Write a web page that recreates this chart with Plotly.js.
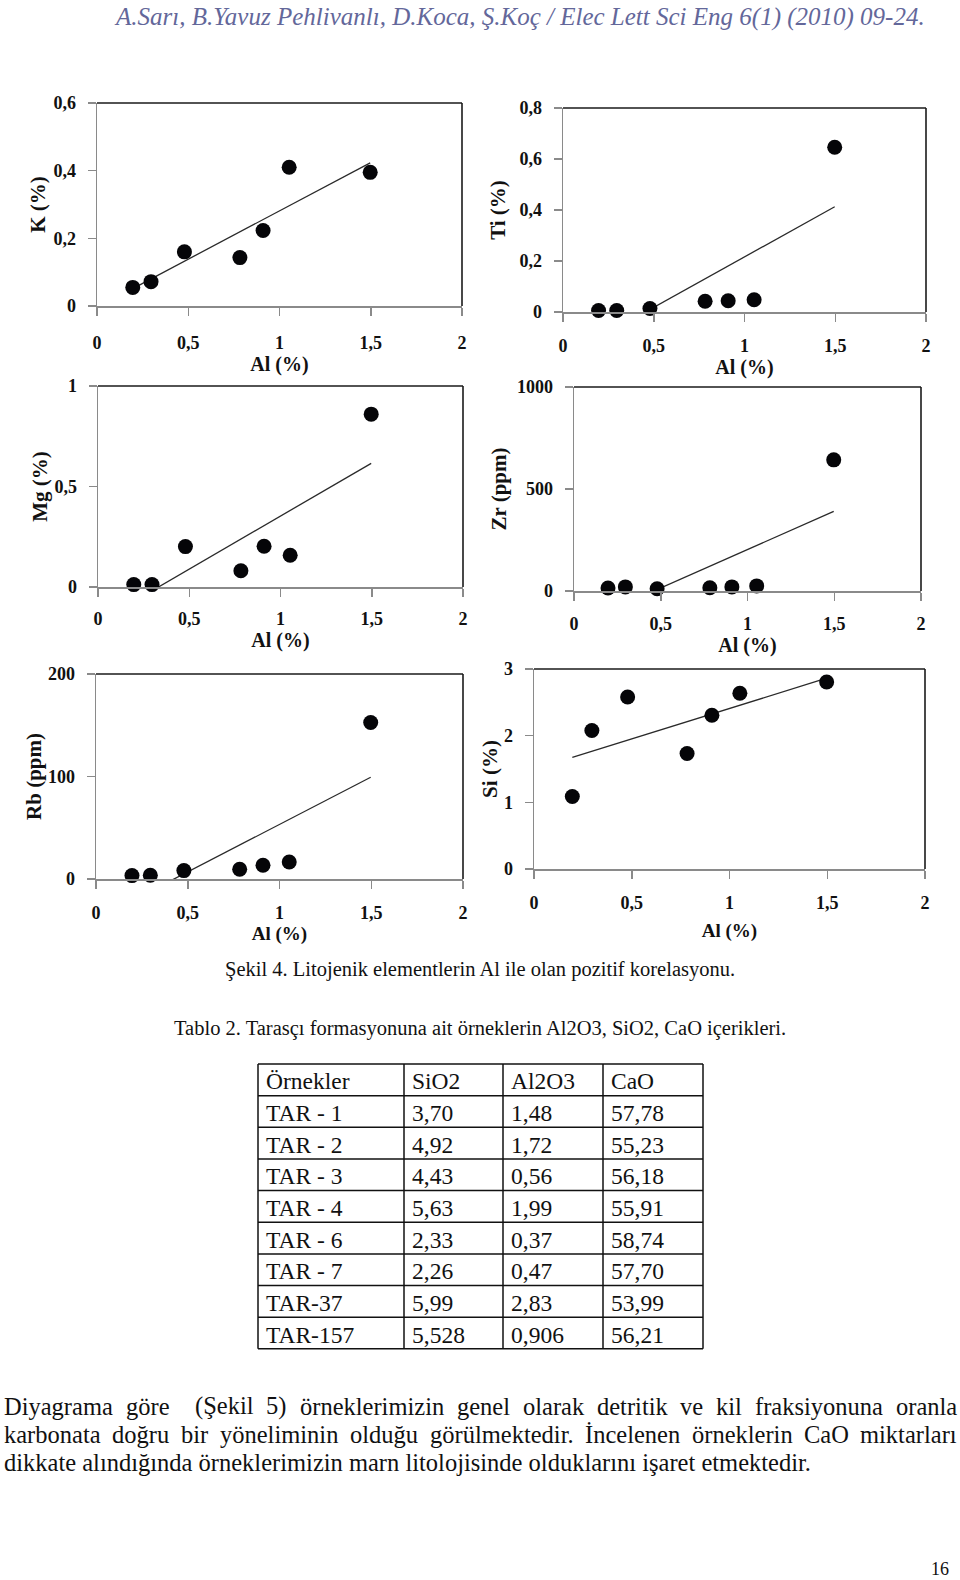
<!DOCTYPE html>
<html><head><meta charset="utf-8">
<script src="https://cdn.plot.ly/plotly-3.0.1.min.js"></script>
<style>html,body{margin:0;padding:0;background:#fff;}#chart{width:960px;height:1580px;}</style>
</head><body><div id="chart"></div>
<script>
// ---- data ----
const alValues = [0.196, 0.296, 0.479, 0.783, 0.910, 1.053, 1.497];
const kValues  = [0.055, 0.072, 0.160, 0.143, 0.223, 0.410, 0.395];
const tiValues = [0.006, 0.006, 0.014, 0.042, 0.044, 0.048, 0.646];
const mgValues = [0.012, 0.012, 0.201, 0.081, 0.203, 0.158, 0.860];
const zrValues = [15, 20, 11, 16, 20, 25, 643];
const rbValues = [3.3, 3.6, 8.2, 9.5, 13.4, 16.6, 152.7];
const siValues = [1.088, 2.077, 2.581, 1.732, 2.306, 2.636, 2.806];
const xTickVals = [0, 0.5, 1, 1.5, 2];

const tableHeader = ['Örnekler', 'SiO2', 'Al2O3', 'CaO'];
const sampleNames = ['TAR - 1', 'TAR - 2', 'TAR - 3', 'TAR - 4', 'TAR - 6', 'TAR - 7', 'TAR-37', 'TAR-157'];
const sio2Values  = ['3,70', '4,92', '4,43', '5,63', '2,33', '2,26', '5,99', '5,528'];
const al2o3Values = ['1,48', '1,72', '0,56', '1,99', '0,37', '0,47', '2,83', '0,906'];
const caoValues   = ['57,78', '55,23', '56,18', '55,91', '58,74', '57,70', '53,99', '56,21'];

const headerText = 'A.Sarı, B.Yavuz Pehlivanlı, D.Koca, Ş.Koç / Elec Lett Sci Eng 6(1) (2010) 09-24.';
const figCaption = 'Şekil 4. Litojenik elementlerin Al ile olan pozitif korelasyonu.';
const tableCaption = 'Tablo 2. Tarasçı formasyonuna ait örneklerin Al2O3, SiO2, CaO içerikleri.';
const paraLines = [
  'Diyagrama göre  (Şekil 5) örneklerimizin genel olarak detritik ve kil fraksiyonuna oranla',
  'karbonata doğru bir yöneliminin olduğu görülmektedir. İncelenen örneklerin CaO miktarları',
  'dikkate alındığında örneklerimizin marn litolojisinde olduklarını işaret etmektedir.'
];
const pageNumber = '16';

// ---- layout helpers ----
const W = 960, H = 1580;
const px = v => v / W, py = v => 1 - v / H;
const SERIF = 'Liberation Serif, Times New Roman, serif';

const panels = [
  {ys: kValues,  title: 'K (%)',    range: [0, 0.6],  dtick: 0.2, box: [97, 462, 103, 306], xt: 20, xs: 12, xts: 0, yts: 2},
  {ys: tiValues, title: 'Ti (%)',   range: [0, 0.8],  dtick: 0.2, box: [563, 926, 108, 312], xt: 20, xs: 9,  xts: 0, yts: 8},
  {ys: mgValues, title: 'Mg (%)',   range: [0, 1],    dtick: 0.5, box: [98, 463, 386, 587], xt: 20, xs: 7,  xts: 0, yts: 1},
  {ys: zrValues, title: 'Zr (ppm)', range: [0, 1000], dtick: 500, box: [574, 921, 387, 591], xt: 20, xs: 8,  xts: 0, yts: 4},
  {ys: rbValues, title: 'Rb (ppm)', range: [0, 200],  dtick: 100, box: [96, 463, 674, 879], xt: 19, xs: 9,  xts: 0, yts: 0},
  {ys: siValues, title: 'Si (%)',   range: [0, 3],    dtick: 1,   box: [534, 925, 669, 869], xt: 19, xs: 9,  xts: 11, yts: 0}
];

function linFit(xs, ys) {
  const n = xs.length;
  const mx = xs.reduce((a, b) => a + b, 0) / n;
  const my = ys.reduce((a, b) => a + b, 0) / n;
  let sxx = 0, sxy = 0;
  for (let i = 0; i < n; i++) { sxx += (xs[i] - mx) ** 2; sxy += (xs[i] - mx) * (ys[i] - my); }
  const b = sxy / sxx;
  return {a: my - b * mx, b: b};
}

const data = [];
const layout = {
  width: W, height: H, margin: {l: 0, r: 0, t: 0, b: 0},
  paper_bgcolor: '#ffffff', plot_bgcolor: '#ffffff',
  showlegend: false, separators: ',.',
  font: {family: SERIF, color: '#000'},
  shapes: [], annotations: []
};

const axisGray = '#8a8a8a';
panels.forEach((p, i) => {
  const s = i === 0 ? '' : String(i + 1);
  const [l, r, t, b] = p.box;
  const xmin = Math.min(...alValues), xmax = Math.max(...alValues);
  const f = linFit(alValues, p.ys);
  data.push({
    type: 'scatter', mode: 'lines', xaxis: 'x' + s, yaxis: 'y' + s,
    x: [xmin, xmax], y: [f.a + f.b * xmin, f.a + f.b * xmax],
    line: {color: '#2a2a2a', width: 1.3}, hoverinfo: 'skip'
  });
  data.push({
    type: 'scatter', mode: 'markers', xaxis: 'x' + s, yaxis: 'y' + s,
    x: alValues, y: p.ys, cliponaxis: false,
    marker: {color: '#050508', size: 15, line: {width: 0}}
  });
  layout['xaxis' + s] = {
    domain: [px(l), px(r)], anchor: 'y' + s, range: [0, 2], tickvals: xTickVals,
    showline: true, linecolor: axisGray, linewidth: 1.5, mirror: false,
    ticks: 'outside', ticklen: 8, tickwidth: 1.5, tickcolor: axisGray,
    showgrid: false, zeroline: false, ticklabelstandoff: p.xs,
    tickfont: {family: SERIF, size: 18, weight: 700, color: '#111'},
    title: {text: 'Al (%)', standoff: p.xts, font: {family: SERIF, size: p.xt, weight: 700, color: '#111'}},
    fixedrange: true
  };
  layout['yaxis' + s] = {
    domain: [py(b), py(t)], anchor: 'x' + s, range: p.range, dtick: p.dtick, tick0: 0,
    showline: true, linecolor: axisGray, linewidth: 1.5,
    ticks: 'outside', ticklen: 8, tickwidth: 1.5, tickcolor: axisGray,
    showgrid: false, zeroline: false, ticklabelstandoff: 8,
    tickfont: {family: SERIF, size: 18, weight: 700, color: '#111'},
    title: {text: p.title, standoff: p.yts, font: {family: SERIF, size: 21, weight: 700, color: '#111'}},
    fixedrange: true
  };
  const xd = 'x' + s + ' domain', yd = 'y' + s + ' domain';
  layout.shapes.push({type: 'line', xref: xd, yref: yd, x0: 0, x1: 1, y0: 1, y1: 1, line: {color: '#1a1a1a', width: 1.6}});
  layout.shapes.push({type: 'line', xref: xd, yref: yd, x0: 1, x1: 1, y0: 0, y1: 1, line: {color: '#1a1a1a', width: 1.6}});
});

function addText(text, x, y, opts) {
  layout.annotations.push(Object.assign({
    text: text, xref: 'paper', yref: 'paper', x: px(x), y: py(y),
    xanchor: 'center', yanchor: 'middle', showarrow: false, borderpad: 0, borderwidth: 0,
    font: {family: SERIF, size: 19, color: '#000'}
  }, opts || {}));
}

// header
addText(headerText, 519, 17, {font: {family: SERIF, size: 25, style: 'italic', color: '#63679a'}});
// captions
addText(figCaption, 480, 969, {font: {family: SERIF, size: 20.5, color: '#111'}});
addText(tableCaption, 480, 1028, {font: {family: SERIF, size: 20.5, color: '#111'}});

// table
const colXs = [258, 404, 503, 603, 703];
const tableTop = 1064, rowH = 31.65;
const columns = [sampleNames, sio2Values, al2o3Values, caoValues];
const nRows = sampleNames.length + 1;
for (let r = 0; r <= nRows; r++) {
  const yy = tableTop + r * rowH;
  layout.shapes.push({type: 'line', xref: 'paper', yref: 'paper', x0: px(colXs[0]), x1: px(colXs[4]), y0: py(yy), y1: py(yy), line: {color: '#111', width: 1.5}});
}
colXs.forEach(cx => {
  layout.shapes.push({type: 'line', xref: 'paper', yref: 'paper', x0: px(cx), x1: px(cx), y0: py(tableTop), y1: py(tableTop + nRows * rowH), line: {color: '#111', width: 1.5}});
});
const cellFont = {family: SERIF, size: 23.5, color: '#111'};
tableHeader.forEach((h, c) => addText(h, colXs[c] + 8, tableTop + rowH / 2 + 1.5, {xanchor: 'left', font: cellFont}));
columns.forEach((col, c) => col.forEach((v, r) => addText(v, colXs[c] + 8, tableTop + (r + 1.5) * rowH + 1.5, {xanchor: 'left', font: cellFont})));

// paragraph (justified lines)
const paraSize = 24.5, paraLeft = 4, paraRight = 957, paraY = [1406, 1434, 1462];
const cv = document.createElement('canvas').getContext('2d');
cv.font = paraSize + 'px "Liberation Serif"';
const paraFont = {family: SERIF, size: paraSize, color: '#111'};
paraLines.forEach((line, li) => {
  if (li === paraLines.length - 1) {
    addText(line, paraLeft, paraY[li], {xanchor: 'left', font: paraFont});
    return;
  }
  const words = line.split(' ');
  const widths = words.map(w => cv.measureText(w).width);
  const total = widths.reduce((a, b) => a + b, 0);
  const gap = (paraRight - paraLeft - total) / (words.length - 1);
  let x = paraLeft;
  words.forEach((w, k) => {
    if (w.length) addText(w, x, paraY[li], {xanchor: 'left', font: paraFont});
    x += widths[k] + gap;
  });
});

// page number
addText(pageNumber, 940, 1569, {font: {family: SERIF, size: 18, color: '#111'}});

Plotly.newPlot('chart', data, layout, {staticPlot: true, displayModeBar: false});
</script>
</body></html>
